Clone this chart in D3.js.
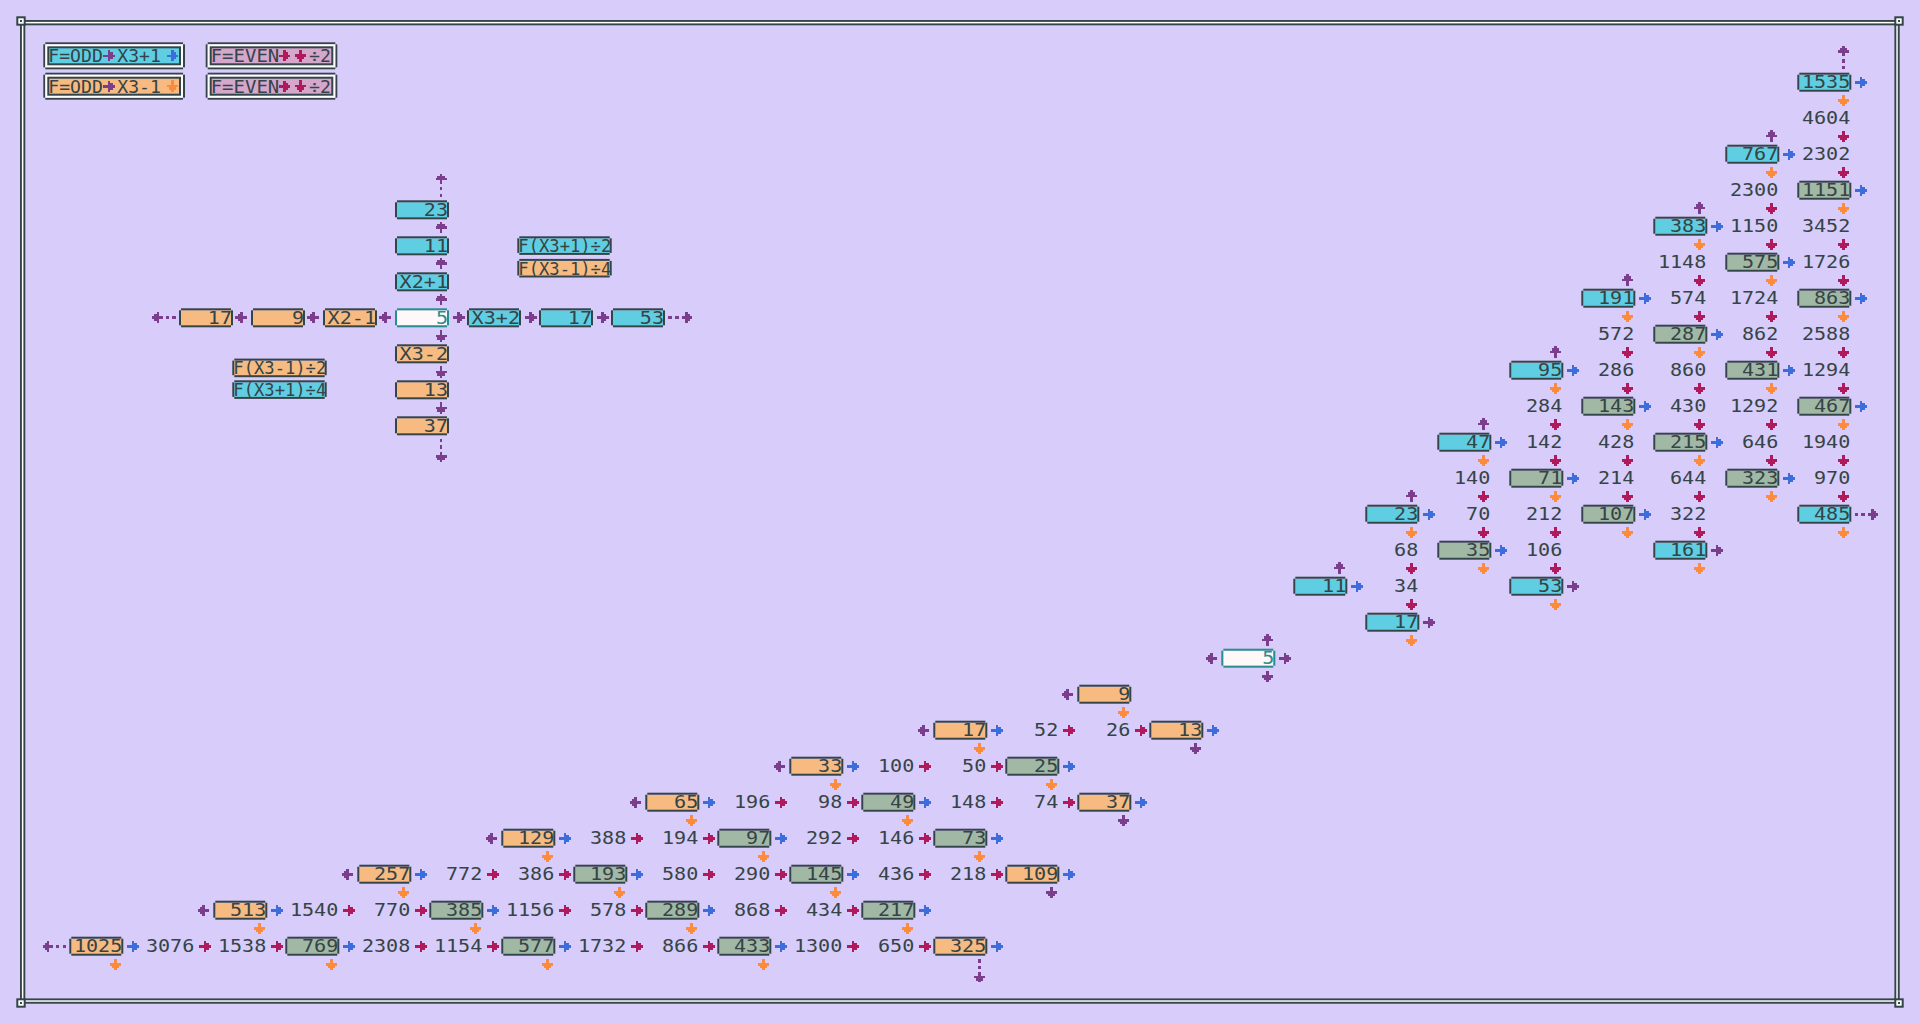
<!DOCTYPE html>
<html><head><meta charset="utf-8">
<script src="https://cdn.jsdelivr.net/npm/d3@7"></script>
<style>html,body{margin:0;padding:0;background:#d7ccfa;overflow:hidden}svg{display:block}</style>
</head><body><svg id="chart" width="1920" height="1024"></svg>
<script>
// ---------------- DATA ----------------
// main staircase: first column of each row, values, kinds (c=cyan odd, o=orange odd, g=grey odd, n=even, s=start, .=empty)
const rowStart = [24,24,23,23,22,22,21,21,20,20,19,19,18,18,17,18,16,14,12,10,8,6,4,2,0];
const rowValues = [
  [1535],
  [4604],
  [767, 2302],
  [2300, 1151],
  [383, 1150, 3452],
  [1148, 575, 1726],
  [191, 574, 1724, 863],
  [572, 287, 862, 2588],
  [95, 286, 860, 431, 1294],
  [284, 143, 430, 1292, 467],
  [47, 142, 428, 215, 646, 1940],
  [140, 71, 214, 644, 323, 970],
  [23, 70, 212, 107, 322, null, 485],
  [68, 35, 106, null, 161],
  [11, 34, null, 53],
  [17],
  [5],
  [9],
  [17, 52, 26, 13],
  [33, 100, 50, 25],
  [65, 196, 98, 49, 148, 74, 37],
  [129, 388, 194, 97, 292, 146, 73],
  [257, 772, 386, 193, 580, 290, 145, 436, 218, 109],
  [513, 1540, 770, 385, 1156, 578, 289, 868, 434, 217],
  [1025, 3076, 1538, 769, 2308, 1154, 577, 1732, 866, 433, 1300, 650, 325]
];
const rowKinds = ["c","n","cn","ng","cnn","ngn","cnng","ngnn","cnngn","ngnng","cnngnn","ngnngn",
  "cnngn.c","ngn.c","cn.c","c","s","o","onno","onng","onngnno","onngnng","onngnngnno","onngnngnng","onngnngnngnno"];
// arrows per cell: side (u/r/d/l), '*' = dashed, colour (b=blue x3+1, o=orange x3-1, m=magenta /2, p=purple)
const rowArrows = [
  ["u*p rb do"],
  ["dm"],
  ["up rb do","dm"],
  ["dm","rb do"],
  ["up rb do","dm","dm"],
  ["dm","rb do","dm"],
  ["up rb do","dm","dm","rb do"],
  ["dm","rb do","dm","dm"],
  ["up rb do","dm","dm","rb do","dm"],
  ["dm","rb do","dm","dm","rb do"],
  ["up rb do","dm","dm","rb do","dm","dm"],
  ["dm","rb do","dm","dm","rb do","dm"],
  ["up rb do","dm","dm","rb do","dm","","r*p do"],
  ["dm","rb do","dm","","rp do"],
  ["up rb","dm","","rp do"],
  ["rp do"],
  ["up rp dp lp"],
  ["lp do"],
  ["lp rb do","rm","rm","rb dp"],
  ["lp rb do","rm","rm","rb do"],
  ["lp rb do","rm","rm","rb do","rm","rm","rb dp"],
  ["lp rb do","rm","rm","rb do","rm","rm","rb do"],
  ["lp rb do","rm","rm","rb do","rm","rm","rb do","rm","rm","rb dp"],
  ["lp rb do","rm","rm","rb do","rm","rm","rb do","rm","rm","rb do"],
  ["l*p rb do","rm","rm","rb do","rm","rm","rb do","rm","rm","rb do","rm","rm","rb d*p"]
];

// cross diagram (offsets -3..3 from the centre)
const crossH = ["17","9","X2-1","5","X3+2","17","53"];
const crossHKinds = "ooosccc";
const crossHArrows = ["l*p","lp","lp","up rp dp lp","rp","rp","r*p"];
const crossV = ["23","11","X2+1","5","X3-2","13","37"];
const crossVKinds = "cccsooo";
const crossVArrows = ["u*p","up","up","","dp","dp","d*p"];
const crossNotes = ["F(X3+1)÷2","F(X3-1)÷4","F(X3-1)÷2","F(X3+1)÷4"];
const crossNoteKinds = "cooc";

// legend
const legendItems = [
  {t1:"F=ODD", t2:"X3+1", a2:"rb", k:"c"},
  {t1:"F=ODD", t2:"X3-1", a2:"do", k:"o"},
  {t1:"F=EVEN", t2:"÷2", k:"pink"},
  {t1:"F=EVEN", t2:"÷2", k:"pink"}
];

// ---------------- STYLE ----------------
const COL = {bg:"#d7ccfa", dark:"#344448", white:"#ffffff", c:"#5fcee2", o:"#f7ba80", g:"#a1b8a4",
             pink:"#d5a7cd", s:"#fff8f8", teal:"#2a8e90"};
const ARC = {b:"#3b6ddd", o:"#fd8b3c", m:"#b01a5d", p:"#7b3e8d"};
const FONT = "'DejaVu Sans Mono', 'Liberation Mono', monospace";
const BW = 54, BH = 19, CH = 12.1;

const svg = d3.select("#chart");
svg.append("rect").attr("width",1920).attr("height",1024).attr("fill",COL.bg);

const x = d3.scaleLinear().domain([0,24]).range([69.3, 69.3 + 24*72]);
const y = d3.scaleLinear().domain([0,24]).range([72.7, 72.7 + 24*36]);
const xc = d3.scaleLinear().domain([-3,3]).range([395 - 216, 395 + 216]);
const yc = d3.scaleLinear().domain([-3,3]).range([308.3 - 108, 308.3 + 108]);

const ARROW_SOLID = "M0,-1.3H11.6V1.3H0Z M4.4,-5.5H7.0V5.5H4.4Z M7.0,-3.6H9.3V3.6H7.0Z";
const ARROW_DASH = "M14.5,-1.3H24.6V1.3H14.5Z M17.9,-5.5H20.5V5.5H17.9Z M20.5,-3.6H22.8V3.6H20.5Z M1.4,-1.3H4.8V1.3H1.4Z M8.1,-1.3H11.5V1.3H8.1Z";

function notchedBorder(g, bx, by, w, h, color, t) {
  [[bx+t,by,w-2*t,t],[bx+t,by+h-t,w-2*t,t],[bx,by+t,t,h-2*t],[bx+w-t,by+t,t,h-2*t]].forEach(r =>
    g.append("rect").attr("x",r[0]).attr("y",r[1]).attr("width",r[2]).attr("height",r[3]).attr("fill",color));
}
function box(g, bx, by, w, h, fill, border) {
  g.append("rect").attr("x",bx+2).attr("y",by+2).attr("width",w-4).attr("height",h-4).attr("fill",fill);
  notchedBorder(g, bx, by, w, h, border, 2);
}
function arrow(g, side, color, dashed, bx, by, w, h) {
  const off = dashed ? 2 : 4;
  let tx, ty, rot;
  if (side === "r") { tx = bx + w + off; ty = by + h/2; rot = 0; }
  else if (side === "l") { tx = bx - off; ty = by + h/2; rot = 180; }
  else if (side === "d") { tx = bx + w - 8; ty = by + h + (dashed ? 2 : 3); rot = 90; }
  else { tx = bx + w - 8; ty = by - (dashed ? 2 : 3); rot = -90; }
  g.append("path").attr("d", dashed ? ARROW_DASH : ARROW_SOLID)
    .attr("transform", `translate(${tx},${ty}) rotate(${rot})`)
    .attr("fill", ARC[color]).attr("shape-rendering","crispEdges");
}
function arrows(g, spec, bx, by, w, h) {
  if (!spec) return;
  spec.split(" ").filter(s => s).forEach(t => arrow(g, t[0], t[t.length-1], t.includes("*"), bx, by, w, h));
}
function cell(g, label, kind, spec, bx, by) {
  const txt = String(label);
  let textColor = COL.dark;
  if (kind === "s") { box(g, bx, by, BW, BH, COL.s, COL.teal); textColor = COL.teal; }
  else if (kind !== "n") box(g, bx, by, BW, BH, COL[kind], COL.dark);
  g.append("text").attr("x", bx + BW - 1).attr("y", by + 15.6)
    .attr("text-anchor","end").attr("font-family",FONT).attr("font-size",16.9)
    .attr("textLength", txt.length * CH).attr("lengthAdjust","spacingAndGlyphs")
    .attr("fill", textColor).text(txt);
  arrows(g, spec, bx, by, BW, BH);
}

// ---------------- MAIN STAIRCASE ----------------
const cells = [];
rowValues.forEach((vals, r) => vals.forEach((v, i) => {
  if (v === null) return;
  cells.push({v, c: rowStart[r] + i, r, k: rowKinds[r][i], a: rowArrows[r][i]});
}));
svg.append("g").selectAll("g").data(cells).join("g")
  .each(function(d){ cell(d3.select(this), d.v, d.k, d.a, x(d.c), y(d.r)); });

// ---------------- CROSS ----------------
const crossCells = [];
crossH.forEach((t,i) => crossCells.push({t, k: crossHKinds[i], a: crossHArrows[i], i: i-3, j: 0}));
crossV.forEach((t,j) => { if (j !== 3) crossCells.push({t, k: crossVKinds[j], a: crossVArrows[j], i: 0, j: j-3}); });
svg.append("g").selectAll("g").data(crossCells).join("g")
  .each(function(d){ cell(d3.select(this), d.t, d.k, d.a, xc(d.i), yc(d.j)); });

// notes beside the cross
const cx0 = xc(0) + BW/2;
const noteLayout = [
  {x: cx0 + 95.3, y: yc(-2)}, {x: cx0 + 95.3, y: yc(-2) + 22.6},
  {x: cx0 - 95.3 - 94.4, y: yc(2) - 21.7}, {x: cx0 - 95.3 - 94.4, y: yc(2)}
];
svg.append("g").selectAll("g").data(crossNotes).join("g").each(function(t, i){
  const g = d3.select(this), p = noteLayout[i], kind = crossNoteKinds[i];
  box(g, p.x, p.y, 94.4, 18.6, COL[kind], COL.dark);
  g.append("text").attr("x", p.x + 1).attr("y", p.y + 15.6)
    .attr("font-family",FONT).attr("font-size",16.9)
    .attr("textLength", 93).attr("lengthAdjust","spacingAndGlyphs")
    .attr("fill", COL.dark).text(t);
});

// ---------------- LEGEND ----------------
const legendPos = [{x:43.3,y:42.3,w:141.7},{x:43.3,y:72.7,w:141.7},{x:205.7,y:42.3,w:131.6},{x:205.7,y:72.7,w:131.6}];
function legendArrow(g, side, color, cxp, cyp) {
  const rot = side === "r" ? 0 : 90;
  const tx = side === "r" ? cxp - 5.8 : cxp;
  const ty = side === "r" ? cyp : cyp - 5.8;
  g.append("path").attr("d", ARROW_SOLID)
    .attr("transform", `translate(${tx},${ty}) rotate(${rot})`)
    .attr("fill", ARC[color]).attr("shape-rendering","crispEdges");
}
svg.append("g").selectAll("g").data(legendItems).join("g").each(function(d, i){
  const g = d3.select(this), p = legendPos[i], h = 27;
  notchedBorder(g, p.x, p.y, p.w, h, COL.dark, 2);
  g.append("rect").attr("x",p.x+2).attr("y",p.y+2).attr("width",p.w-4).attr("height",h-4).attr("fill",COL.white);
  g.append("rect").attr("x",p.x+4).attr("y",p.y+4).attr("width",p.w-8).attr("height",h-8).attr("fill",COL.dark);
  g.append("rect").attr("x",p.x+6).attr("y",p.y+6).attr("width",p.w-12).attr("height",h-12).attr("fill",COL[d.k]);
  const base = p.y + 19.9, mid = p.y + 13.5;
  const odd = d.t1 === "F=ODD";
  g.append("text").attr("x", p.x + 5).attr("y", base).attr("font-family",FONT).attr("font-size",17.8)
    .attr("textLength", odd ? 54.5 : 68.6).attr("lengthAdjust","spacingAndGlyphs").attr("fill",COL.dark).text(d.t1);
  g.append("text").attr("x", p.x + (odd ? 74 : 103.3)).attr("y", base).attr("font-family",FONT).attr("font-size",17.8)
    .attr("textLength", odd ? 43.6 : 22).attr("lengthAdjust","spacingAndGlyphs").attr("fill",COL.dark).text(d.t2);
  if (odd) {
    legendArrow(g, "r", "p", p.x + 65.9, mid);
    legendArrow(g, d.a2[0], d.a2[1], p.x + 129, mid);
  } else {
    legendArrow(g, "r", "m", p.x + 79, mid);
    legendArrow(g, "d", "m", p.x + 95.1, mid);
  }
});

// ---------------- FRAME ----------------
const frame = svg.append("g");
frame.append("rect").attr("x",22.65).attr("y",22.65).attr("width",1874.4).attr("height",978.4)
  .attr("fill","none").attr("stroke",COL.dark).attr("stroke-width",5.3);
frame.append("rect").attr("x",22.65).attr("y",22.65).attr("width",1874.4).attr("height",978.4)
  .attr("fill","none").attr("stroke",COL.white).attr("stroke-width",1.5);
[[16.3,16.3],[1894.3,16.3],[16.3,998.3],[1894.3,998.3]].forEach(q => {
  frame.append("rect").attr("x",q[0]+1).attr("y",q[1]+1).attr("width",7.4).attr("height",7.4)
    .attr("fill",COL.white).attr("stroke",COL.dark).attr("stroke-width",2);
  frame.append("rect").attr("x",q[0]+3.7).attr("y",q[1]+3.7).attr("width",2).attr("height",2).attr("fill",COL.dark);
});
</script></body></html>
